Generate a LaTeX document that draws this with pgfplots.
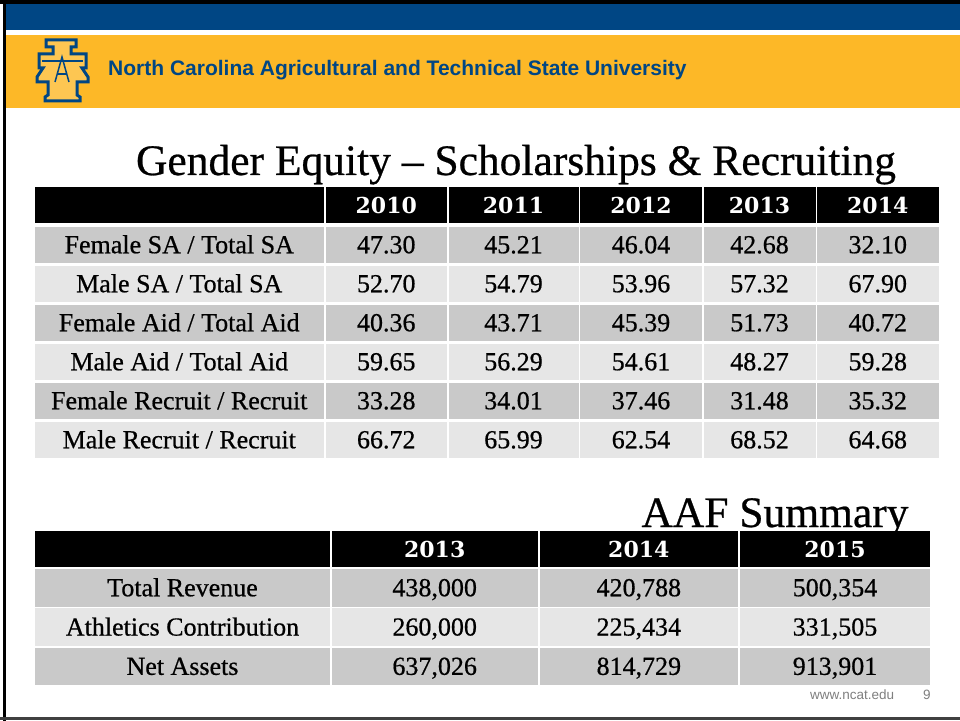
\documentclass[border=0pt]{standalone}
\usepackage{fontspec}
\setmainfont{Liberation Serif}
\newfontfamily\sansf{Liberation Sans}
\newfontfamily\heavyserif{Liberation Serif}[FakeBold=0.6]
\newfontfamily\headserif{DejaVu Serif}
\usepackage{pgfplots}
\usepackage{pgfplotstable}
\pgfplotsset{compat=1.18}
\definecolor{ncblue}{HTML}{004684}
\definecolor{ncgold}{HTML}{FDB827}
\definecolor{rowdark}{HTML}{C9C9C9}
\definecolor{rowlight}{HTML}{E6E6E6}
\definecolor{foot}{HTML}{7F7F7F}
\newcommand\tabfont{\heavyserif\fontsize{26bp}{30bp}\selectfont}
\newcommand\headfont{\headserif\bfseries\fontsize{22bp}{26bp}\selectfont}

\pgfplotstableread[col sep=comma]{
row,label,a,b,c,d,e
0,Female SA / Total SA,47.30,45.21,46.04,42.68,32.10
1,Male SA / Total SA,52.70,54.79,53.96,57.32,67.90
2,Female Aid / Total Aid,40.36,43.71,45.39,51.73,40.72
3,Male Aid / Total Aid,59.65,56.29,54.61,48.27,59.28
4,Female Recruit / Recruit,33.28,34.01,37.46,31.48,35.32
5,Male Recruit / Recruit,66.72,65.99,62.54,68.52,64.68
}\gender

\pgfplotstableread[col sep=comma]{
row,label,a,b,c
0,Total Revenue,438000,420788,500354
1,Athletics Contribution,260000,225434,331505
2,Net Assets,637026,814729,913901
}\aaf

\pgfplotstableread[col sep=comma]{
x,year
386.25,2010
513.5,2011
641,2012
759.5,2013
877.75,2014
}\yearsA

\pgfplotstableread[col sep=comma]{
x,year
434.7,2013
638.85,2014
835,2015
}\yearsB

\pgfplotsset{
  txt/.style={only marks, mark=*, mark size=0pt, mark options={draw=none, fill=none},
    nodes near coords,
    every node near coord/.append style={anchor=base, inner sep=0pt, outer sep=0pt, font=\tabfont, text=black}},
  sym/.style={txt, point meta=explicit symbolic},
  hdr/.style={sym, every node near coord/.append style={font=\headfont, text=white}},
  dec/.style={txt, point meta=explicit,
    nodes near coords={\pgfmathprintnumber[fixed, fixed zerofill, precision=2, assume math mode=true]{\pgfplotspointmeta}}},
  thou/.style={txt, point meta=explicit,
    nodes near coords={\pgfmathprintnumber[fixed, precision=0, 1000 sep={,}, assume math mode=true]{\pgfplotspointmeta}}},
}

\begin{document}
\begin{tikzpicture}
\begin{axis}[x=1bp, y=1bp, xmin=0, xmax=960, ymin=0, ymax=721, y dir=reverse,
  hide axis, clip=false, enlargelimits=false]
% slide frame
\fill[white] (0,0) rectangle (960,721);
\fill[black] (0,0) rectangle (960,4);
\fill[ncblue] (6,4) rectangle (960,30);
\fill[ncgold] (6,35) rectangle (960,108.3);
\fill[black] (2.5,0) rectangle (6,721);
\fill[black!75] (0,717) rectangle (960,719.5);
% logo
\filldraw[fill=ncgold!80!white, draw=ncblue, line width=3bp, line join=miter]
  (46,40) -- (76,40) -- (76,47) -- (71,47) -- (71,54) -- (86,54) -- (86,68) -- (82,68)
  -- (88,77) -- (88,82) -- (77,82) -- (77,95) -- (80,97) -- (80,101)
  -- (45,101) -- (45,97) -- (48,95) -- (48,82) -- (37,82) -- (37,77) -- (43,68)
  -- (39,68) -- (39,54) -- (53,54) -- (53,47) -- (46,47) -- cycle;
\draw[ncblue, line width=1.5bp] (42,61) -- (83,61);
\draw[ncblue, line width=1.5bp] (55,82) -- (62,57) -- (69,82);
\draw[ncblue, line width=1.2bp] (57,74) -- (67,74);
% header
\node[anchor=base west, inner sep=0pt, text=ncblue, font=\sansf\bfseries\fontsize{21bp}{25bp}\selectfont]
  at (108,76) {North Carolina Agricultural and Technical State University};
% title
\node[anchor=base, inner sep=0pt, font=\heavyserif\fontsize{43.5bp}{50bp}\selectfont]
  at (516,175) {Gender Equity – Scholarships \& Recruiting};
% table 1 background
\fill[black] (35,186.7) rectangle (938.5,223.3);
\fill[rowdark] (35,226.5) rectangle (938.5,263);
\fill[rowlight] (35,265.5) rectangle (938.5,302);
\fill[rowdark] (35,304.5) rectangle (938.5,341);
\fill[rowlight] (35,343.5) rectangle (938.5,380);
\fill[rowdark] (35,382.5) rectangle (938.5,419);
\fill[rowlight] (35,421.5) rectangle (938.5,458);
\fill[white] (323.5,186) rectangle (325.5,459);
\fill[white] (447,186) rectangle (448.6,459);
\fill[white] (578.5,186) rectangle (580,459);
\fill[white] (702,186) rectangle (703.5,459);
\fill[white] (815.5,186) rectangle (817,459);
% AAF title
\node[anchor=base, inner sep=0pt, font=\heavyserif\fontsize{43.5bp}{50bp}\selectfont]
  at (775,527) {AAF Summary};
% table 2 background
\fill[black] (35,530.7) rectangle (930,566.7);
\fill[rowdark] (35,569) rectangle (930,606.5);
\fill[rowlight] (35,608.3) rectangle (930,645.8);
\fill[rowdark] (35,647.6) rectangle (930,685.1);
\fill[white] (330,530) rectangle (331.7,686);
\fill[white] (537.7,530) rectangle (540,686);
\fill[white] (737.7,530) rectangle (740,686);
% footer
\node[anchor=base west, inner sep=0pt, text=foot, font=\sansf\fontsize{13.5bp}{16bp}\selectfont]
  at (810,699) {www.ncat.edu};
\node[anchor=base west, inner sep=0pt, text=foot, font=\sansf\fontsize{13.5bp}{16bp}\selectfont]
  at (923,699) {9};

% table 1 text
\addplot[hdr] table[x=x, y expr=213.5, meta=year] {\yearsA};
\addplot[sym] table[x expr=179.25, y expr=253.25+39*\thisrow{row}, meta=label] {\gender};
\addplot[dec] table[x expr=386.25, y expr=253.25+39*\thisrow{row}, meta=a] {\gender};
\addplot[dec] table[x expr=513.5, y expr=253.25+39*\thisrow{row}, meta=b] {\gender};
\addplot[dec] table[x expr=641, y expr=253.25+39*\thisrow{row}, meta=c] {\gender};
\addplot[dec] table[x expr=759.5, y expr=253.25+39*\thisrow{row}, meta=d] {\gender};
\addplot[dec] table[x expr=877.75, y expr=253.25+39*\thisrow{row}, meta=e] {\gender};
% table 2 text
\addplot[hdr] table[x=x, y expr=557, meta=year] {\yearsB};
\addplot[sym] table[x expr=182.5, y expr=596.25+39.3*\thisrow{row}, meta=label] {\aaf};
\addplot[thou] table[x expr=434.7, y expr=596.25+39.3*\thisrow{row}, meta=a] {\aaf};
\addplot[thou] table[x expr=638.85, y expr=596.25+39.3*\thisrow{row}, meta=b] {\aaf};
\addplot[thou] table[x expr=835, y expr=596.25+39.3*\thisrow{row}, meta=c] {\aaf};
\end{axis}
\end{tikzpicture}
\end{document}
